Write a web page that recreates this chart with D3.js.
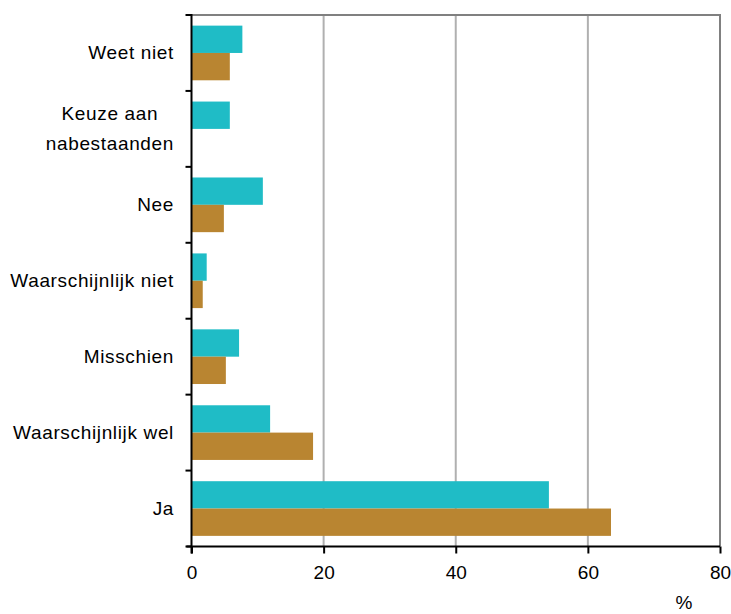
<!DOCTYPE html>
<html><head><meta charset="utf-8">
<script src="https://cdn.jsdelivr.net/npm/d3@7"></script>
<style>html,body{margin:0;padding:0;background:#fff;}svg{display:block;}</style>
</head><body>
<script>
const categories = ["Weet niet", "Keuze aan\nnabestaanden", "Nee", "Waarschijnlijk niet", "Misschien", "Waarschijnlijk wel", "Ja"];
const seriesNames = ["A", "B"];
const seriesA = [7.7, 5.8, 10.8, 2.3, 7.2, 11.9, 54.1];
const seriesB = [5.8, 0, 4.9, 1.7, 5.2, 18.4, 63.5];
const xTicks = [0, 20, 40, 60, 80];
const colors = ["#1fbcc6", "#b98531"];

(function () {
const W = 731, H = 614;
const pL = 191.5, pR = 720, pT = 15, pB = 546.5;
const svg = d3.select("body").append("svg").attr("width", W).attr("height", H)
  .style("font-family", "'Liberation Sans', Arial, sans-serif");

const x = d3.scaleLinear().domain([0, 80]).range([pL, pR]);
const y = d3.scaleBand().domain(categories).range([pT, pB]).paddingInner(0.28).paddingOuter(0.14);
const ySub = d3.scaleBand().domain(seriesNames).range([0, y.bandwidth()]);
const rowStep = (pB - pT) / categories.length;

// gridlines
svg.append("g").selectAll("line").data(xTicks.slice(1, -1)).join("line")
  .attr("x1", d => x(d)).attr("x2", d => x(d)).attr("y1", pT).attr("y2", pB)
  .attr("stroke", "#b0b0b0").attr("stroke-width", 2);
// frame top & right
svg.append("path").attr("d", `M${pL},${pT}H${pR}V${pB}`)
  .attr("fill", "none").attr("stroke", "#808080").attr("stroke-width", 2);

// bars
const data = [];
categories.forEach((c, i) => {
  data.push({c, s: "A", v: seriesA[i], col: colors[0]});
  data.push({c, s: "B", v: seriesB[i], col: colors[1]});
});
svg.append("g").selectAll("rect").data(data.filter(d => d.v > 0)).join("rect")
  .attr("x", x(0)).attr("y", d => y(d.c) + ySub(d.s))
  .attr("width", d => x(d.v) - x(0)).attr("height", ySub.bandwidth())
  .attr("fill", d => d.col);

// x axis
const xAxis = d3.axisBottom(x).tickValues(xTicks).tickSize(7).tickPadding(12);
const gx = svg.append("g").attr("transform", `translate(0,${pB})`).call(xAxis);
gx.select(".domain").attr("stroke", "#000").attr("stroke-width", 2).attr("d", `M${pL - 5},0H${pR}`);
gx.selectAll(".tick line").attr("stroke", "#000").attr("stroke-width", 2);
gx.selectAll(".tick text").attr("font-size", 19).attr("fill", "#000")
  .attr("font-family", "'Liberation Sans', Arial, sans-serif").attr("dy", "0.71em");

// y axis line and ticks at category boundaries
const boundaries = d3.range(categories.length + 1).map(i => pT + i * rowStep);
svg.append("line").attr("x1", pL).attr("x2", pL).attr("y1", pT - 1).attr("y2", pB + 7)
  .attr("stroke", "#000").attr("stroke-width", 2);
svg.append("g").selectAll("line").data(boundaries).join("line")
  .attr("x1", pL - 6).attr("x2", pL).attr("y1", d => d).attr("y2", d => d)
  .attr("stroke", "#000").attr("stroke-width", 2);

// category labels
const labelX = 174;
const lg = svg.append("g").attr("font-size", 19).attr("fill", "#000").style("letter-spacing", "0.65px");
categories.forEach((c, i) => {
  const lines = c.split("\n");
  const cy = y(c) + y.bandwidth() / 2;
  if (lines.length === 1) {
    lg.append("text").attr("x", labelX).attr("y", cy + 6).attr("text-anchor", "end").text(c);
  } else {
    const lh = 30;
    const texts = lines.map((l, j) => lg.append("text")
      .attr("y", cy + 6 + (j - (lines.length - 1) / 2) * lh).attr("text-anchor", "middle").text(l));
    const maxW = d3.max(texts, t => t.node().getComputedTextLength());
    texts.forEach(t => t.attr("x", labelX - maxW / 2));
  }
});

// unit label
svg.append("text").attr("x", 684).attr("y", 609).attr("text-anchor", "middle")
  .attr("font-size", 19).attr("fill", "#000").text("%");
})();
</script>
</body></html>
